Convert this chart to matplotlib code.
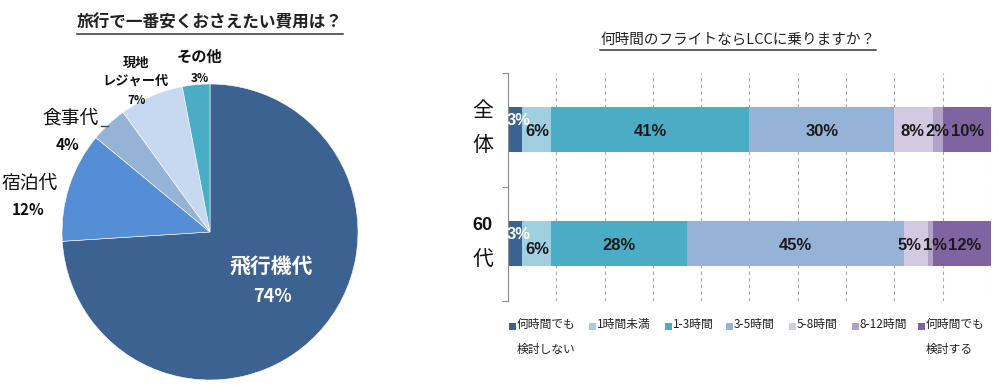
import numpy as np
import matplotlib.pyplot as plt
from matplotlib.patches import Rectangle
from matplotlib.lines import Line2D

plt.rcParams['font.family'] = ['Noto Sans CJK JP', 'DejaVu Sans']

W, H = 998, 385

# --- pie data ---
pie_title = '旅行で一番安くおさえたい費用は？'
pie_labels = ['飛行機代', '宿泊代', '食事代', '現地\nレジャー代', 'その他']
pie_values = [74, 12, 4, 7, 3]
pie_colors = ['#3b6290', '#558ed5', '#95b3d7', '#c6d9f1', '#4bacc6']

# --- bar data ---
bar_title = '何時間のフライトならLCCに乗りますか？'
groups = ['全体', '60代']
group_lines = [['全', '体'], ['60', '代']]
bar_cats = ['何時間でも\n検討しない', '1時間未満', '1-3時間', '3-5時間',
            '5-8時間', '8-12時間', '何時間でも\n検討する']
vals_all = [3, 6, 41, 30, 8, 2, 10]
vals_60 = [3, 6, 28, 45, 5, 1, 12]
bar_colors = ['#3b6290', '#9fcfe0', '#4bacc6', '#95b3d7',
              '#d3cae2', '#b3a2c7', '#8064a2']

fig = plt.figure(figsize=(W / 100, H / 100), dpi=100)


def fx(x):
    return x / W


def fy(y):
    return 1 - y / H


def underline(t, pad=2):
    fig.canvas.draw()
    bb = t.get_window_extent()
    fig.add_artist(Line2D([bb.x0, bb.x1], [bb.y0 - pad, bb.y0 - pad],
                          transform=None, color='#333333', lw=1.1))


# ---------------- pie ----------------
ax1 = fig.add_axes([fx(62), fy(380), 296 / W, 296 / H])
ax1.pie(pie_values, colors=pie_colors, startangle=90, counterclock=False,
        wedgeprops=dict(edgecolor='white', linewidth=0.4))
ax1.set_xlim(-1, 1)
ax1.set_ylim(-1, 1)
ax1.axis('off')

t1 = fig.text(fx(210), fy(22), pie_title, ha='center', va='center',
              fontsize=12, fontweight='bold', color='#222222')

# label layout: (name pos, name size, name bold, pct pos, pct size, colour)
pie_layout = [
    ((271, 266), 15, True, (272, 296), 13, 'white'),
    ((30, 183), 13.5, False, (28, 210), 11, '#111111'),
    ((70, 118), 13.5, False, (68, 145), 11, '#111111'),
    ((136, 72), 9.5, True, (137, 100), 8.5, '#111111'),
    ((200, 57), 11, True, (200, 79), 8.5, '#111111'),
]
for lab, v, (npos, ns, nb, ppos, ps, col) in zip(pie_labels, pie_values, pie_layout):
    fig.text(fx(npos[0]), fy(npos[1]), lab, ha='center', va='center',
             fontsize=ns, fontweight='bold' if nb else 'normal', color=col,
             linespacing=1.3)
    fig.text(fx(ppos[0]), fy(ppos[1]), f'{v}%', ha='center', va='center',
             fontsize=ps, fontweight='bold', color=col)
# small leader next to 食事代
fig.add_artist(Line2D([101, 108], [H - 126, H - 126], transform=None,
                      color='#444444', lw=1))

# ---------------- stacked bars ----------------
ax2 = fig.add_axes([fx(508), fy(300.5), 483 / W, 228 / H])
ypos = [1, 0]
rows = [vals_all, vals_60]
# label nudges (x in %, y in bar units)
nudges = [[(0.7, 0.08), (0, -0.02), (0, -0.02), (0, -0.02), (-0.2, -0.02), (0, -0.02), (0.2, -0.02)],
          [(0.7, 0.08), (0, -0.05), (0, -0.02), (0, -0.02), (-1.35, -0.02), (0.95, -0.02), (0.45, -0.02)]]
for y, vals, nud in zip(ypos, rows, nudges):
    left = np.concatenate([[0], np.cumsum(vals)[:-1]])
    ax2.barh(y, vals, left=left, height=0.395, color=bar_colors,
             edgecolor='none', zorder=2)
    for i, (l, v) in enumerate(zip(left, vals)):
        dx, dy = nud[i]
        ax2.text(l + v / 2 + dx, y + dy, f'{v}%', ha='center', va='center',
                 fontsize=12, fontweight='bold',
                 family=['Liberation Sans', 'DejaVu Sans'],
                 color='white' if i == 0 else '#1a1a1a', zorder=3)

ax2.set_xlim(0, 100)
ax2.set_ylim(-0.5, 1.5)
ax2.set_xticks(np.arange(0, 101, 10))
ax2.xaxis.grid(True, linestyle=(0, (3, 3)), color='#a8a8a8', lw=0.8)
ax2.set_axisbelow(True)
ax2.tick_params(axis='x', length=0, labelbottom=False)
ax2.set_yticks([-0.5, 0.5, 1.5])
ax2.set_yticklabels([])
ax2.tick_params(axis='y', length=4, color='#8c8c8c', width=0.8)
for s in ['top', 'right', 'bottom']:
    ax2.spines[s].set_visible(False)
ax2.spines['left'].set_color('#8c8c8c')
ax2.spines['left'].set_linewidth(0.8)

# category labels, drawn line by line
for y, lines in zip(ypos, group_lines):
    for k, ln in enumerate(lines):
        bold = ln.isdigit()
        ax2.text(-5.2, y + 0.16 - 0.30 * k, ln, ha='center', va='center',
                 fontsize=15 if not bold else 13,
                 fontweight='bold' if bold else 'normal',
                 family=['Liberation Sans', 'Noto Sans CJK JP'] if bold
                 else ['Noto Sans CJK JP'],
                 color='#111111', clip_on=False)

t2 = fig.text(fx(738), fy(40), bar_title, ha='center', va='center',
              fontsize=10.5, color='#222222')

# legend
leg_x = [509, 589, 665, 726, 789, 852, 918]
for x, lab, c in zip(leg_x, bar_cats, bar_colors):
    fig.add_artist(Rectangle((x, H - 330), 7, 7, transform=None,
                             facecolor=c, edgecolor='none'))
    for k, ln in enumerate(lab.split('\n')):
        fig.text(fx(x + 8), fy(324 + 25.5 * k), ln, ha='left', va='center',
                 fontsize=8.5, color='#222222')

underline(t1, 3)
underline(t2, 3)

fig.savefig('out.png', dpi=100)
